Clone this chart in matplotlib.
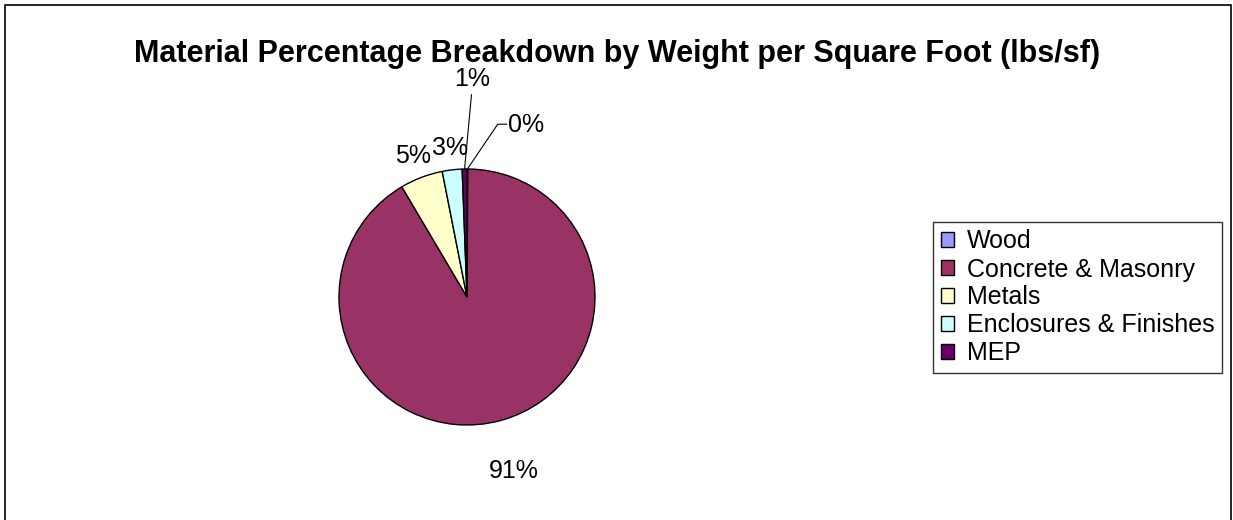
import numpy as np
import matplotlib
matplotlib.use("Agg")
from matplotlib import pyplot as plt
from matplotlib.patches import Patch, Rectangle

plt.rcParams['font.family'] = ['Liberation Sans', 'DejaVu Sans']

# 数据
materials = ['Wood', 'Concrete & Masonry', 'Metals', 'Enclosures & Finishes', 'MEP']
percents = [0.1, 91.4, 5.4, 2.5, 0.6]
colors = ['#9999FF', '#993366', '#FFFFCC', '#CCFFFF', '#660066']

fig = plt.figure(figsize=(12.33, 5.2), dpi=100)

# 外框
fig.patches.append(Rectangle((5 / 1233, -0.01), 1226 / 1233, 1.0, transform=fig.transFigure,
                             fill=False, edgecolor='black', linewidth=1.2))

fig.text(617 / 1233, 1 - 54 / 520, 'Material Percentage Breakdown by Weight per Square Foot (lbs/sf)',
         ha='center', va='center', fontsize=22, fontweight='bold')

# 饼图区域：中心 (467, 297)，半径 128 px
ax = fig.add_axes([267 / 1233, 23 / 520, 400 / 1233, 400 / 520])

wedges, _ = ax.pie(percents, colors=colors, startangle=90, counterclock=False,
                   wedgeprops=dict(edgecolor='black', linewidth=1))
lim = 400 / 256
ax.set_xlim(-lim, lim)
ax.set_ylim(-lim, lim)
ax.set_aspect('equal')
ax.axis('off')


def pct(p):
    return '%d%%' % int(p + 0.5)


# 百分比标签
lab_r = [None, 1.41, 1.18, 1.17, None]
for w, p, r in zip(wedges, percents, lab_r):
    if r is None:
        continue
    ang = np.deg2rad((w.theta1 + w.theta2) / 2)
    ax.text(r * np.cos(ang), r * np.sin(ang), pct(p), ha='center', va='center',
            fontsize=18, clip_on=False)

# MEP 1% 引线
a_mep = np.deg2rad((wedges[4].theta1 + wedges[4].theta2) / 2)
ax.plot([np.cos(a_mep), 0.035], [np.sin(a_mep), 1.58], color='black', linewidth=0.8, clip_on=False)
ax.text(0.037, 1.70, pct(percents[4]), ha='center', va='center', fontsize=18, clip_on=False)

# Wood 0% 引线
a_wood = np.deg2rad((wedges[0].theta1 + wedges[0].theta2) / 2)
ax.plot([np.cos(a_wood), 0.24, 0.31], [np.sin(a_wood), 1.35, 1.35], color='black', linewidth=0.8, clip_on=False)
ax.text(0.32, 1.34, pct(percents[0]), ha='left', va='center', fontsize=18, clip_on=False)

handles = [Patch(facecolor=c, edgecolor='black', linewidth=1) for c in colors]
leg = fig.legend(handles, materials, loc='upper left', bbox_to_anchor=(933 / 1233, 1 - 222 / 520),
                 fontsize=18, frameon=True, fancybox=False, edgecolor='black',
                 handlelength=0.55, handleheight=0.55, handletextpad=0.5, labelspacing=0.16,
                 borderpad=0.3, borderaxespad=0)
leg.get_frame().set_linewidth(1)

fig.savefig('out.png', dpi=100)
